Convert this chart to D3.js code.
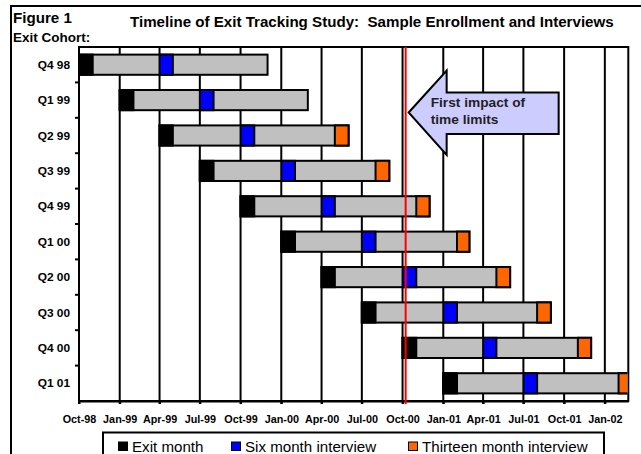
<!DOCTYPE html>
<html>
<head>
<meta charset="utf-8">
<script src="https://cdn.jsdelivr.net/npm/d3@7"></script>
<style>
  body { margin: 0; background: #fff; }
  svg { display: block; font-family: "Liberation Sans", Arial, sans-serif; }
</style>
</head>
<body>
<div class="chart"></div>
<script>
// Cohorts and the month of each event
var cohorts = ["Q4 98", "Q1 99", "Q2 99", "Q3 99", "Q4 99", "Q1 00", "Q2 00", "Q3 00", "Q4 00", "Q1 01"];
var exitMonth = ["1998-10", "1999-01", "1999-04", "1999-07", "1999-10", "2000-01", "2000-04", "2000-07", "2000-10", "2001-01"];
var sixMonth = ["1999-04", "1999-07", "1999-10", "2000-01", "2000-04", "2000-07", "2000-10", "2001-01", "2001-04", "2001-07"];
var thirteenMonth = [null, null, "2000-05", "2000-08", "2000-11", "2001-02", "2001-05", "2001-08", "2001-11", "2002-02"];
var trackEnd = ["1999-12", "2000-03", "2000-06", "2000-09", "2000-12", "2001-03", "2001-06", "2001-09", "2001-12", "2002-03"];

// quarterly tick labels on the time axis
var tickMonths = ["1998-10", "1999-01", "1999-04", "1999-07", "1999-10", "2000-01", "2000-04",
  "2000-07", "2000-10", "2001-01", "2001-04", "2001-07", "2001-10", "2002-01"];
var axisStart = "1998-10-01";
var axisEnd = "2002-02-23";
var impactDate = "2000-10-08";

var legendLabels = ["Exit month", "Six month interview", "Thirteen month interview"];
var legendColors = ["#000000", "#0000FF", "#FF6600"];

var svgWidth = 641;
var svgHeight = 454;

var margin = { top: 47, left: 79 };
var width = 549.3;
var height = 354;

var parseMonth = d3.timeParse("%Y-%m");
var parseDay = d3.timeParse("%Y-%m-%d");

var svg = d3.select(".chart")
  .append("svg")
  .attr("width", svgWidth)
  .attr("height", svgHeight);

// outer frame of the figure (left and top edges only show)
svg.append("path")
  .attr("d", "M11,470V6H650")
  .attr("fill", "none")
  .attr("stroke", "#000")
  .attr("stroke-width", 2);

svg.append("text")
  .attr("x", 13).attr("y", 23)
  .attr("font-size", 14).attr("font-weight", "bold")
  .text("Figure 1");

svg.append("text")
  .attr("x", 130).attr("y", 26.7)
  .attr("font-size", 14).attr("font-weight", "bold")
  .attr("xml:space", "preserve")
  .text("Timeline of Exit Tracking Study:  Sample Enrollment and Interviews");

svg.append("text")
  .attr("x", 13).attr("y", 42.3)
  .attr("font-size", 12.5).attr("font-weight", "bold")
  .text("Exit Cohort:");

var chartGroup = svg.append("g")
  .attr("transform", `translate(${margin.left}, ${margin.top})`);

// scales
var x = d3.scaleTime()
  .domain([parseDay(axisStart), parseDay(axisEnd)])
  .range([0, width]);

var y = d3.scaleBand()
  .domain(cohorts)
  .range([0, height])
  .paddingInner(0.43)
  .paddingOuter(0.215);

var ticks = tickMonths.map(parseMonth);

// vertical gridlines (they also make the small ticks below the axis)
chartGroup.append("g")
  .selectAll("line")
  .data(ticks)
  .enter()
  .append("line")
  .attr("x1", d => x(d))
  .attr("x2", d => x(d))
  .attr("y1", 0)
  .attr("y2", height + 3)
  .attr("stroke", "#000")
  .attr("stroke-width", 2);

// plot border (top and right)
chartGroup.append("rect")
  .attr("x", 0).attr("y", 0)
  .attr("width", width).attr("height", height)
  .attr("fill", "none")
  .attr("stroke", "#000")
  .attr("stroke-width", 2);

// bars
chartGroup.append("clipPath")
  .attr("id", "plotClip")
  .append("rect")
  .attr("x", -2).attr("y", -2)
  .attr("width", width + 1).attr("height", height + 4);

var rows = cohorts.map(function (c, i) {
  var segs = [];
  segs.push({ start: parseMonth(exitMonth[i]), end: parseMonth(trackEnd[i]), color: "#C0C0C0" });
  segs.push({ start: parseMonth(exitMonth[i]), end: d3.timeMonth.offset(parseMonth(exitMonth[i]), 1), color: legendColors[0] });
  segs.push({ start: parseMonth(sixMonth[i]), end: d3.timeMonth.offset(parseMonth(sixMonth[i]), 1), color: legendColors[1] });
  if (thirteenMonth[i]) {
    segs.push({ start: parseMonth(thirteenMonth[i]), end: d3.timeMonth.offset(parseMonth(thirteenMonth[i]), 1), color: legendColors[2] });
  }
  return { cohort: c, segs: segs };
});

var barGroup = chartGroup.append("g")
  .attr("clip-path", "url(#plotClip)");

barGroup.selectAll("g")
  .data(rows)
  .enter()
  .append("g")
  .selectAll("rect")
  .data(d => d.segs.map(s => Object.assign({ cohort: d.cohort }, s)))
  .enter()
  .append("rect")
  .attr("x", d => x(d.start))
  .attr("y", d => y(d.cohort))
  .attr("width", d => x(d.end) - x(d.start))
  .attr("height", y.bandwidth())
  .attr("fill", d => d.color)
  .attr("stroke", "#000")
  .attr("stroke-width", 2);

// left axis line with ticks between cohorts
chartGroup.append("line")
  .attr("x1", 0).attr("x2", 0)
  .attr("y1", 0).attr("y2", height)
  .attr("stroke", "#000").attr("stroke-width", 2);

var gap = y.step() * y.paddingInner() / 2;
chartGroup.append("g")
  .selectAll("line")
  .data(cohorts.slice(1))
  .enter()
  .append("line")
  .attr("x1", -4).attr("x2", 0)
  .attr("y1", d => y(d) - gap)
  .attr("y2", d => y(d) - gap)
  .attr("stroke", "#000").attr("stroke-width", 2);

chartGroup.append("g")
  .selectAll("text")
  .data(cohorts)
  .enter()
  .append("text")
  .attr("x", -9)
  .attr("y", d => y(d) + y.bandwidth() / 2 + 4)
  .attr("text-anchor", "end")
  .attr("font-size", 11)
  .attr("font-weight", "bold")
  .text(d => d);

// bottom axis
var bottomAxis = d3.axisBottom(x)
  .tickValues(ticks)
  .tickFormat(d3.timeFormat("%b-%y"))
  .tickSizeInner(3)
  .tickSizeOuter(0)
  .tickPadding(11.4);

var xAxis = chartGroup.append("g")
  .attr("transform", `translate(0, ${height})`)
  .call(bottomAxis);
xAxis.select(".domain").attr("stroke-width", 2);
xAxis.selectAll(".tick line").attr("stroke-width", 2);
xAxis.selectAll("text")
  .attr("font-family", "Liberation Sans, Arial, sans-serif")
  .attr("font-size", 10)
  .attr("font-weight", "bold")
  .attr("fill", "#000");

// red line: first impact of time limits
var xi = x(parseDay(impactDate));
chartGroup.append("line")
  .attr("x1", xi).attr("x2", xi)
  .attr("y1", 0).attr("y2", height + 3)
  .attr("stroke", "#FF0000")
  .attr("stroke-width", 2);

// callout arrow pointing at the red line
var tipX = xi + 3, tipY = 65.5;
var arrow = chartGroup.append("g")
  .attr("transform", `translate(${tipX}, ${tipY})`);

arrow.append("path")
  .attr("d", "M0,0L38,-42V-20H150V21.5H38V42.5Z")
  .attr("fill", "#CCCCFF")
  .attr("stroke", "#000")
  .attr("stroke-width", 2)
  .attr("stroke-linejoin", "miter");

arrow.selectAll("text")
  .data(["First impact of", "time limits"])
  .enter()
  .append("text")
  .attr("x", 22)
  .attr("y", (d, i) => -5.8 + i * 17.6)
  .attr("font-size", 12.7)
  .attr("font-weight", "bold")
  .attr("fill", "#222")
  .text(d => d);

// legend
var legend = svg.append("g");
legend.append("rect")
  .attr("x", 103).attr("y", 432.5)
  .attr("width", 501).attr("height", 40)
  .attr("fill", "#fff")
  .attr("stroke", "#000")
  .attr("stroke-width", 2);

var legendX = [118.5, 231.5, 408.5];
var item = legend.selectAll(".item")
  .data(legendLabels)
  .enter()
  .append("g")
  .attr("class", "item")
  .attr("transform", (d, i) => `translate(${legendX[i]}, 442)`);

item.append("rect")
  .attr("width", 9).attr("height", 8.5)
  .attr("fill", (d, i) => legendColors[i])
  .attr("stroke", "#000")
  .attr("stroke-width", 1);

item.append("text")
  .attr("x", 13.5)
  .attr("y", 10.3)
  .attr("font-size", 14)
  .text(d => d);

// the scanned figure is a little wider than the font, stretch every text by the same factor
svg.selectAll("text").each(function () {
  var len = this.getComputedTextLength();
  d3.select(this)
    .attr("textLength", len * 1.08)
    .attr("lengthAdjust", "spacingAndGlyphs");
});
</script>
</body>
</html>
